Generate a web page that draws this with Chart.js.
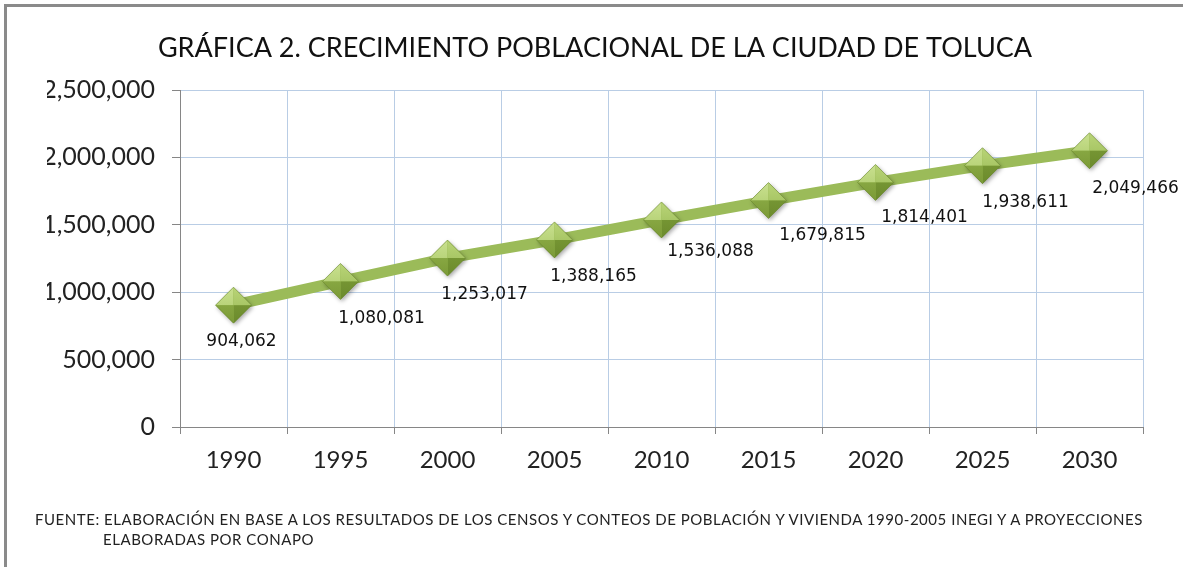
<!DOCTYPE html>
<html>
<head>
<meta charset="utf-8">
<script src="https://cdn.jsdelivr.net/npm/chart.js@4/dist/chart.umd.min.js"></script>
<style>
  html, body { margin: 0; padding: 0; background: #fff; }
  #wrap { position: relative; width: 1183px; height: 567px; overflow: hidden; }
  #frame { position: absolute; left: 4px; top: 4px; width: 1300px; height: 700px;
           border-left: 3px solid #8a8a8a; border-top: 3px solid #8a8a8a; box-sizing: border-box; }
  canvas { position: absolute; left: 0; top: 0; }
  .foot { position: absolute; font-family: Lato, sans-serif; font-size: 15px; color: #222; white-space: nowrap; }
</style>
</head>
<body>
<div id="wrap">
  <div id="frame"></div>
  <canvas id="c" width="1183" height="567"></canvas>
  <div class="foot" id="f1" style="left:35px; top:510px;">FUENTE: ELABORACIÓN EN BASE A LOS RESULTADOS DE LOS CENSOS Y CONTEOS DE POBLACIÓN Y VIVIENDA 1990-2005 INEGI Y A PROYECCIONES</div>
  <div class="foot" id="f2" style="left:103px; top:530px;">ELABORADAS POR CONAPO</div>
</div>
<script>
const titleText = 'GRÁFICA 2. CRECIMIENTO POBLACIONAL DE LA CIUDAD DE TOLUCA';
const years = ['1990','1995','2000','2005','2010','2015','2020','2025','2030'];
const population = [904062, 1080081, 1253017, 1388165, 1536088, 1679815, 1814401, 1938611, 2049466];
const yTicks = [0, 500000, 1000000, 1500000, 2000000, 2500000];

// fit footer line 1 to its width in the reference
(function(){
  const f1 = document.getElementById('f1');
  const target = 1108;
  const w = f1.getBoundingClientRect().width;
  if (w > 0) f1.style.letterSpacing = ((target - w) / f1.textContent.length) + 'px';
  document.getElementById('f2').style.letterSpacing = f1.style.letterSpacing;
})();

const fmt = v => v.toLocaleString('en-US');

const labelOffsets = [[8,36],[41,37],[37,36],[39,37],[49,32],[54,35],[49,35],[43,37],[46,38]];

const diamondPlugin = {
  id: 'diamonds',
  afterDatasetsDraw(chart) {
    const meta = chart.getDatasetMeta(0);
    const ctx = chart.ctx;
    const r = 18;
    meta.data.forEach(pt => {
      const x = pt.x, y = pt.y;
      ctx.save();
      ctx.shadowColor = 'rgba(0,0,0,0.35)';
      ctx.shadowBlur = 4; ctx.shadowOffsetX = 1.5; ctx.shadowOffsetY = 2;
      ctx.beginPath();
      ctx.moveTo(x - r, y); ctx.lineTo(x, y - r); ctx.lineTo(x + r, y); ctx.lineTo(x, y + r); ctx.closePath();
      ctx.fillStyle = '#8fb047';
      ctx.fill();
      ctx.restore();
      const facets = [
        [[x - r, y], [x, y - r], '#c9e08f', '#a9c866'],
        [[x, y - r], [x + r, y], '#b9d477', '#98b955'],
        [[x + r, y], [x, y + r], '#7f9f3a', '#6b8a2c'],
        [[x, y + r], [x - r, y], '#93b34c', '#7b9a37']
      ];
      ctx.save();
      facets.forEach(f => {
        const g = ctx.createLinearGradient(x, y - r, x, y + r);
        g.addColorStop(0, f[2]); g.addColorStop(1, f[3]);
        ctx.beginPath();
        ctx.moveTo(f[0][0], f[0][1]); ctx.lineTo(f[1][0], f[1][1]); ctx.lineTo(x, y); ctx.closePath();
        ctx.fillStyle = g; ctx.fill();
      });
      ctx.beginPath();
      ctx.moveTo(x - r, y); ctx.lineTo(x, y - r); ctx.lineTo(x + r, y); ctx.lineTo(x, y + r); ctx.closePath();
      ctx.strokeStyle = 'rgba(95,125,40,0.6)'; ctx.lineWidth = 0.8; ctx.stroke();
      ctx.restore();
    });
  },
  afterDraw(chart) {
    const meta = chart.getDatasetMeta(0);
    const ctx = chart.ctx;
    ctx.save();
    ctx.font = '17px "DejaVu Sans", sans-serif';
    ctx.fillStyle = '#111';
    ctx.textAlign = 'center';
    ctx.textBaseline = 'middle';
    meta.data.forEach((pt, i) => {
      const o = labelOffsets[i];
      ctx.fillText(fmt(population[i]), pt.x + o[0], pt.y + o[1]);
    });
    ctx.restore();
  }
};

new Chart(document.getElementById('c'), {
  type: 'line',
  data: {
    labels: years,
    datasets: [{
      data: population,
      borderColor: '#9bbb59',
      borderWidth: 11,
      borderCapStyle: 'round',
      borderJoinStyle: 'round',
      tension: 0,
      pointRadius: 0,
      pointHoverRadius: 0,
      fill: false
    }]
  },
  options: {
    responsive: false,
    animation: false,
    events: [],
    layout: { padding: { left: 47, right: 40, top: 0, bottom: 0 } },
    plugins: {
      legend: { display: false },
      tooltip: { enabled: false },
      title: {
        display: true,
        text: titleText,
        color: '#111',
        font: { family: 'Lato', size: 27, weight: 'normal', lineHeight: 1.2 },
        padding: { top: 32, bottom: 25.6 }
      }
    },
    scales: {
      x: {
        offset: true,
        grid: { offset: true, color: '#b9cde5', tickColor: '#868686', tickLength: 7, lineWidth: 1 },
        border: { color: '#868686', width: 1 },
        ticks: { color: '#222', font: { family: 'Lato', size: 24 }, padding: 12, maxRotation: 0 },
        afterFit(scale) { scale.height = 140; }
      },
      y: {
        min: 0, max: 2500000,
        afterBuildTicks(scale) { scale.ticks = yTicks.map(v => ({ value: v })); },
        grid: { color: '#b9cde5', tickColor: '#868686', tickLength: 8 },
        border: { color: '#868686', width: 1 },
        ticks: { color: '#222', font: { family: 'Lato', size: 25 }, padding: 17, callback: v => fmt(v) },
        afterFit(scale) { scale.width = 133; }
      }
    }
  },
  plugins: [diamondPlugin]
});
</script>
</body>
</html>
